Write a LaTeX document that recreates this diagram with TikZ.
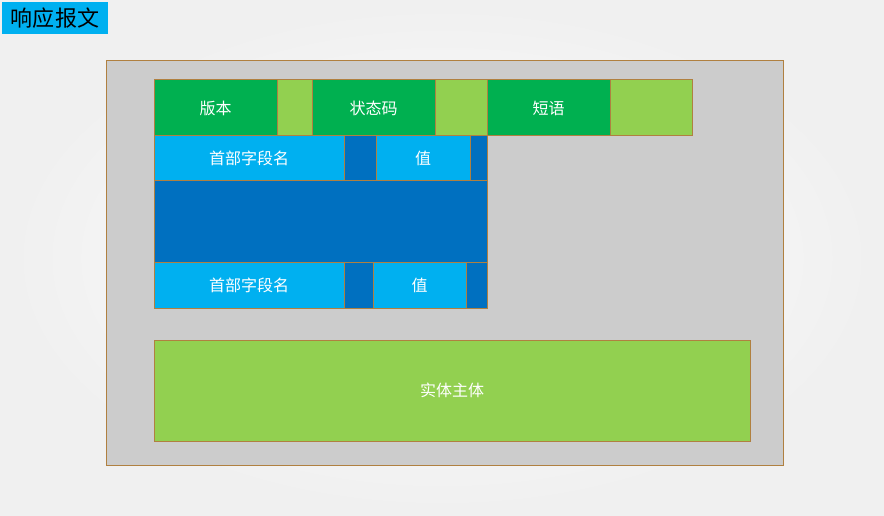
\documentclass[tikz,border=0pt]{standalone}
\usepackage{fontspec}
\setmainfont{Noto Sans CJK SC}
\definecolor{fieldgreen}{RGB}{0,176,80}
\definecolor{padgreen}{RGB}{146,208,80}
\definecolor{fieldcyan}{RGB}{0,176,240}
\definecolor{padblue}{RGB}{0,112,192}
\definecolor{panelgray}{RGB}{204,204,204}
\definecolor{framebrown}{RGB}{176,128,64}
\tikzset{
  cell/.style={draw=framebrown, line width=0.75pt},
  celltext/.style={text=white, font=\fontsize{12}{14}\selectfont},
}
\begin{document}
\begin{tikzpicture}[x=0.75pt, y=-0.75pt]
  \useasboundingbox (0,0) rectangle (884,516);

  % Background
  \shade[inner color=white, outer color=black!6] (0,0) rectangle (884,516);

  % Title
  \fill[fieldcyan] (2,2) rectangle (108,34);
  \node[font=\fontsize{16.5}{19}\selectfont, text=black] (title) at (55,18) {响应报文};

  % Panel
  \draw[cell, fill=panelgray] (106,61) rectangle (783,465);

  % Status line
  \draw[cell, fill=fieldgreen] (154,80) rectangle (277,136);
  \draw[cell, fill=padgreen] (277,80) rectangle (312,136);
  \draw[cell, fill=fieldgreen] (312,80) rectangle (435,136);
  \draw[cell, fill=padgreen] (435,80) rectangle (487,136);
  \draw[cell, fill=fieldgreen] (487,80) rectangle (610,136);
  \draw[cell, fill=padgreen] (610,80) rectangle (692,136);
  \node[celltext] (version) at (215.5,108) {版本};
  \node[celltext] (status) at (373.5,108) {状态码};
  \node[celltext] (phrase) at (548.5,108) {短语};

  % First header line
  \draw[cell, fill=fieldcyan] (154,136) rectangle (344,181);
  \draw[cell, fill=padblue] (344,136) rectangle (376,181);
  \draw[cell, fill=fieldcyan] (376,136) rectangle (470,181);
  \draw[cell, fill=padblue] (470,136) rectangle (487,181);
  \node[celltext] (name1) at (249,158.5) {首部字段名};
  \node[celltext] (value1) at (423,158.5) {值};

  % Further header lines
  \draw[cell, fill=padblue] (154,181) rectangle (487,263);

  % Last header line
  \draw[cell, fill=fieldcyan] (154,263) rectangle (344,308);
  \draw[cell, fill=padblue] (344,263) rectangle (373,308);
  \draw[cell, fill=fieldcyan] (373,263) rectangle (466,308);
  \draw[cell, fill=padblue] (466,263) rectangle (487,308);
  \node[celltext] (name2) at (249,285.5) {首部字段名};
  \node[celltext] (value2) at (419.5,285.5) {值};

  % Entity body
  \draw[cell, fill=padgreen] (154,340) rectangle (750,441);
  \node[celltext] (body) at (452,390.5) {实体主体};

\end{tikzpicture}
\end{document}
